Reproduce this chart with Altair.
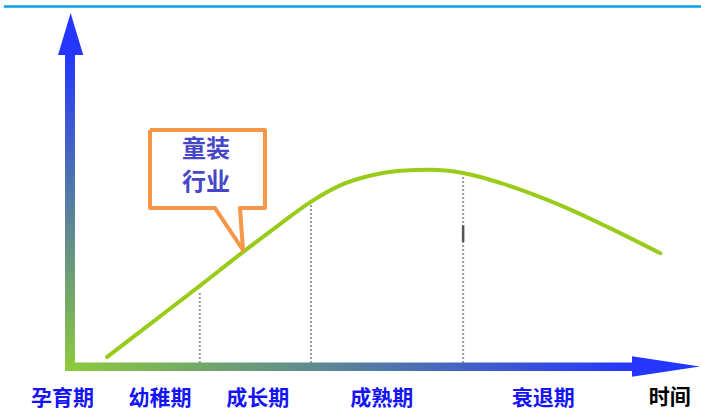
import altair as alt
import pandas as pd

# ---- data (time units 0-100 along x, industry size 0-100 along y) ----
curve_time = [5.9, 12.7, 20.6, 27.5, 33.3, 38.1, 42.9, 47.6, 52.4,
              57.1, 62.4, 68.3, 73.0, 77.8, 85.7, 93.7]
curve_size = [2.7, 12.0, 22.8, 32.4, 40.2, 46.4, 51.2, 53.9, 55.3,
              55.6, 54.7, 51.9, 49.0, 45.6, 39.1, 32.0]

stage_names = ["孕育期", "幼稚期", "成长期", "成熟期", "衰退期"]
stage_pos = [-1.2, 14.3, 29.8, 49.5, 75.1]
stage_label_y = -9.2

boundary_t = [20.6, 38.25, 62.4]
boundary_top = [21.1, 46.4, 54.0]
boundary_bottom = 1.0

axis_title = "时间"
axis_title_pos = (95.2, -8.9)

callout_lines = ["童装", "行业"]
callout_text_x = 21.6
callout_text_y = [61.2, 51.9]
# outline of the speech bubble (box + tail pointing at the curve)
callout_x = [12.70, 30.95, 30.95, 26.98, 27.46, 23.02, 12.70, 12.70]
callout_y = [66.86, 66.86, 44.78, 44.78, 32.93, 44.78, 44.78, 66.86]

GREEN = "#8CCB3A"
BLUE = "#2436FF"

xs = alt.Scale(domain=[0, 100], range=[70, 700], nice=False, zero=False)
ys = alt.Scale(domain=[0, 100], range=[366.5, 12.7], nice=False, zero=False)


def X(f):
    return alt.X(f, type="quantitative", scale=xs, axis=None)


def Y(f):
    return alt.Y(f, type="quantitative", scale=ys, axis=None)


# top header rule
top_line = alt.Chart(pd.DataFrame({"x": [-10.5], "x2": [100.2], "y": [101.75]})).mark_rule(
    color="#00A0E9", strokeWidth=2.5
).encode(x=X("x"), x2="x2", y=Y("y"))

# y axis shaft with gradient
y_grad = alt.Gradient(
    gradient="linear",
    stops=[alt.GradientStop(color=GREEN, offset=0), alt.GradientStop(color=BLUE, offset=1)],
    x1=0, x2=0, y1=1, y2=0,
)
y_shaft = alt.Chart(pd.DataFrame({"x": [-0.79], "x2": [0.79], "y": [-1.27], "y2": [88.5]})).mark_rect(
    color=y_grad
).encode(x=X("x"), x2="x2", y=Y("y"), y2="y2")

x_grad = alt.Gradient(
    gradient="linear",
    stops=[alt.GradientStop(color=GREEN, offset=0), alt.GradientStop(color=BLUE, offset=1)],
    x1=0, x2=1, y1=0, y2=0,
)
x_shaft = alt.Chart(pd.DataFrame({"x": [-0.79], "x2": [89.5], "y": [-1.27], "y2": [1.13]})).mark_rect(
    color=x_grad
).encode(x=X("x"), x2="x2", y=Y("y"), y2="y2")

y_head = alt.Chart(pd.DataFrame({"x": [0.1], "y": [94.0]})).mark_point(
    shape="M0,-1L-0.6,1L0.6,1Z", size=1764, filled=True, color=BLUE, opacity=1, strokeWidth=0
).encode(x=X("x"), y=Y("y"))

x_head = alt.Chart(pd.DataFrame({"x": [94.6], "y": [0.0]})).mark_point(
    shape="M1,0L-1,-0.3L-1,0.3Z", size=4624, filled=True, color=BLUE, opacity=1, strokeWidth=0
).encode(x=X("x"), y=Y("y"))

curve = alt.Chart(pd.DataFrame({"t": curve_time, "v": curve_size})).mark_line(
    color="#99CC1A", strokeWidth=4, interpolate="monotone", strokeCap="round"
).encode(x=X("t"), y=Y("v"))

bounds = alt.Chart(pd.DataFrame({
    "t": boundary_t, "top": boundary_top, "bot": [boundary_bottom] * len(boundary_t)
})).mark_rule(color="#9A9A9A", strokeWidth=2, strokeDash=[2, 2]).encode(
    x=X("t"), y=Y("bot"), y2="top"
)

tick_mark = alt.Chart(pd.DataFrame({"t": [62.4], "a": [35.2], "b": [39.9]})).mark_rule(
    color="#555555", strokeWidth=2.5
).encode(x=X("t"), y=Y("a"), y2="b")

bubble = alt.Chart(pd.DataFrame({
    "x": callout_x, "y": callout_y, "o": list(range(len(callout_x)))
})).mark_line(color="#F79646", strokeWidth=4, strokeJoin="round").encode(
    x=X("x"), y=Y("y"), order="o"
)

bubble_text = alt.Chart(pd.DataFrame({
    "x": [callout_text_x] * 2, "y": callout_text_y, "s": callout_lines
})).mark_text(
    font="Noto Sans CJK SC", fontSize=24, fontWeight="bold", color="#4646C8",
    baseline="middle", align="center"
).encode(x=X("x"), y=Y("y"), text="s")

stage_text = alt.Chart(pd.DataFrame({
    "x": stage_pos, "y": [stage_label_y] * len(stage_pos), "s": stage_names
})).mark_text(
    font="Noto Sans CJK SC", fontSize=21, fontWeight="bold", color="#1414F5",
    baseline="middle", align="center"
).encode(x=X("x"), y=Y("y"), text="s")

time_text = alt.Chart(pd.DataFrame({
    "x": [axis_title_pos[0]], "y": [axis_title_pos[1]], "s": [axis_title]
})).mark_text(
    font="Noto Sans CJK SC", fontSize=21, fontWeight="bold", color="#000000",
    baseline="middle", align="center"
).encode(x=X("x"), y=Y("y"), text="s")

chart = alt.layer(
    top_line, bounds, tick_mark, y_shaft, x_shaft, y_head, x_head, curve,
    bubble, bubble_text, stage_text, time_text
).properties(
    width=701, height=410, autosize=alt.AutoSizeParams(type="none"), padding=0,
    background="white"
).configure_view(stroke=None)

chart.save("out.html", embed_options={"renderer": "svg", "actions": False})
